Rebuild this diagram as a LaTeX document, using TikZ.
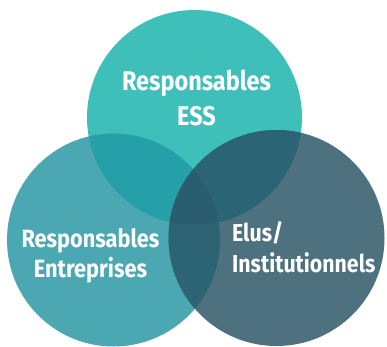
\documentclass[tikz,border=0pt]{standalone}
\usepackage{fontspec}
\newfontfamily\lbl{Fira Sans}[FakeStretch=0.87]
\definecolor{cT}{HTML}{3FBFBA}
\definecolor{cL}{HTML}{4BA8B2}
\definecolor{cR}{HTML}{4D717F}
\definecolor{cTL}{HTML}{25A0A8}
\definecolor{cTR}{HTML}{2B6474}
\definecolor{cLR}{HTML}{2C6474}
\definecolor{cTLR}{HTML}{2A5E6E}
\tikzset{lab/.style={text=white,font=\lbl\bfseries,inner sep=0pt}}
\begin{document}
\begin{tikzpicture}[x=1pt,y=-1pt]
\useasboundingbox (0,0) rectangle (387,346);
\def\circTop{(194.5,117.5) circle[radius=107.5]}
\def\circLeft{(113.5,240) circle[radius=106.5]}
\def\circRight{(276.5,238) circle[radius=108]}
\fill[cT] \circTop;
\fill[cL] \circLeft;
\fill[cR] \circRight;
\begin{scope}\clip \circTop; \fill[cTL] \circLeft; \fill[cTR] \circRight; \end{scope}
\begin{scope}\clip \circLeft; \fill[cLR] \circRight; \end{scope}
\begin{scope}\clip \circTop; \clip \circLeft; \fill[cTLR] \circRight; \end{scope}
\node[lab,font=\lbl\bfseries\fontsize{27}{35}\selectfont,align=center,anchor=base] (ess) at (196.5,125) {Responsables\\ESS};
\node[lab,font=\lbl\bfseries\fontsize{25}{30}\selectfont,align=center,anchor=base] (ent) at (90.5,277) {Responsables\\Entreprises};
\node[lab,font=\lbl\bfseries\fontsize{24.5}{31}\selectfont,align=left,anchor=base west] (elu) at (232,272) {Elus/\\Institutionnels};
\end{tikzpicture}
\end{document}
